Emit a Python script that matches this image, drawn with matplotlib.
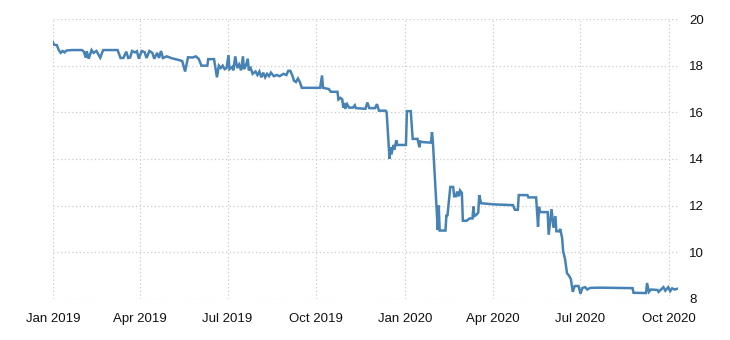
import matplotlib
matplotlib.use("Agg")
import matplotlib.pyplot as plt
import matplotlib.dates as mdates
import pandas as pd

start = "2019-01-01"

# days since start
day = [0, 1, 4, 6, 8, 10, 12, 14, 20, 30, 32, 34, 35, 37, 40, 42, 45, 49, 52, 67,
       70, 73, 76, 78, 80, 82, 85, 87, 89, 92, 95, 97, 100, 103, 105, 108, 110, 112, 114, 118,
       123, 130, 134, 136, 137, 140, 145, 148, 151, 154, 160, 161, 167, 170, 172, 174, 176, 178, 180, 182,
       183, 186, 187, 189, 191, 193, 195, 197, 198, 200, 202, 203, 205, 207, 210, 212, 214, 216, 218, 220,
       222, 224, 226, 229, 232, 235, 239, 242, 244, 246, 248, 250, 252, 254, 256, 258, 277, 279, 280, 286,
       288, 295, 296, 298, 300, 301, 302, 303, 305, 307, 311, 313, 314, 324, 326, 328, 334, 336, 338, 345,
       346, 349, 350, 351, 353, 354, 356, 357, 366, 367, 371, 373, 378, 380, 381, 384, 392, 393, 394, 399,
       400, 401, 407, 408, 409, 412, 415, 416, 418, 419, 421, 422, 424, 425, 429, 432, 435, 436, 437, 439,
       441, 442, 444, 450, 458, 477, 479, 482, 483, 492, 493, 501, 503, 504, 505, 513, 514, 516, 517, 519,
       521, 522, 525, 526, 528, 529, 531, 533, 535, 537, 539, 541, 545, 547, 549, 552, 554, 557, 567, 583,
       601, 602, 615, 616, 618, 620, 627, 628, 633, 635, 638, 640, 642, 645, 647]

value = [19.0, 18.9, 18.88, 18.67, 18.55, 18.63, 18.57, 18.65, 18.67, 18.67, 18.6, 18.34, 18.62, 18.3, 18.67, 18.55, 18.63, 18.34, 18.67, 18.67,
         18.33, 18.33, 18.6, 18.33, 18.35, 18.63, 18.57, 18.62, 18.3, 18.63, 18.58, 18.33, 18.63, 18.55, 18.3, 18.55, 18.33, 18.63, 18.33, 18.4,
         18.32, 18.25, 18.2, 17.9, 17.75, 18.36, 18.35, 18.4, 18.3, 18.0, 18.0, 18.28, 18.28, 17.5, 18.0, 17.9, 18.0, 17.85, 17.9, 18.45,
         17.85, 17.95, 17.8, 18.4, 17.9, 18.05, 17.8, 18.4, 17.85, 18.0, 18.3, 17.8, 17.9, 17.65, 17.75, 17.6, 17.75, 17.5, 17.7, 17.5,
         17.65, 17.55, 17.7, 17.55, 17.6, 17.55, 17.65, 17.6, 17.78, 17.78, 17.6, 17.35, 17.3, 17.45, 17.3, 17.05, 17.05, 17.58, 17.05, 17.0,
         16.88, 16.88, 16.55, 16.62, 16.55, 16.2, 16.4, 16.15, 16.35, 16.2, 16.2, 16.3, 16.18, 16.15, 16.42, 16.18, 16.18, 16.35, 16.07, 16.07,
         16.0, 14.0, 14.5, 14.2, 14.6, 14.4, 14.8, 14.6, 14.6, 16.05, 16.05, 14.86, 14.86, 14.5, 14.75, 14.72, 14.7, 15.15, 14.7, 10.95,
         12.0, 10.93, 10.93, 11.6, 11.55, 12.8, 12.8, 12.4, 12.4, 12.6, 12.4, 12.65, 12.55, 11.35, 11.35, 11.45, 11.45, 11.96, 11.55, 11.6,
         11.7, 12.45, 12.1, 12.08, 12.05, 12.02, 11.82, 11.82, 12.45, 12.45, 12.35, 12.35, 11.1, 11.95, 11.72, 11.72, 10.75, 11.5, 11.85, 11.05,
         11.55, 10.9, 10.9, 11.0, 10.6, 10.05, 9.7, 9.1, 9.0, 8.85, 8.3, 8.55, 8.55, 8.22, 8.47, 8.5, 8.4, 8.47, 8.48, 8.47,
         8.46, 8.26, 8.25, 8.68, 8.3, 8.4, 8.38, 8.3, 8.5, 8.35, 8.5, 8.33, 8.45, 8.4, 8.43]

x_ticks = ["2019-01-01", "2019-04-01", "2019-07-01", "2019-10-01",
           "2020-01-01", "2020-04-01", "2020-07-01", "2020-10-01"]
y_ticks = [8, 10, 12, 14, 16, 18, 20]

dates = pd.Timestamp(start) + pd.to_timedelta(day, unit="D")

plt.rcParams["font.family"] = ["Liberation Sans", "DejaVu Sans"]

fig = plt.figure(figsize=(7.3, 3.4), dpi=100)
ax = fig.add_axes([0.0726, 0.121, 0.856, 0.823])

ax.plot(dates, value, color="#4682b4", linewidth=1.8, solid_joinstyle="miter")

ax.set_xlim(pd.Timestamp(start), pd.Timestamp(start) + pd.Timedelta(days=648))
ax.set_ylim(8, 20)
ax.set_xticks(pd.to_datetime(x_ticks))
ax.xaxis.set_major_formatter(mdates.DateFormatter("%b %Y"))
ax.set_yticks(y_ticks)
ax.yaxis.tick_right()

ax.tick_params(axis="both", length=0, labelsize=9.5, colors="#111111")
ax.tick_params(axis="x", pad=10)
ax.tick_params(axis="y", pad=8)

ax.grid(True, linestyle=(0, (1, 2)), color="#cccccc", linewidth=0.9)
ax.set_axisbelow(True)
for s in ax.spines.values():
    s.set_visible(False)

fig.savefig("out.png", dpi=100)
